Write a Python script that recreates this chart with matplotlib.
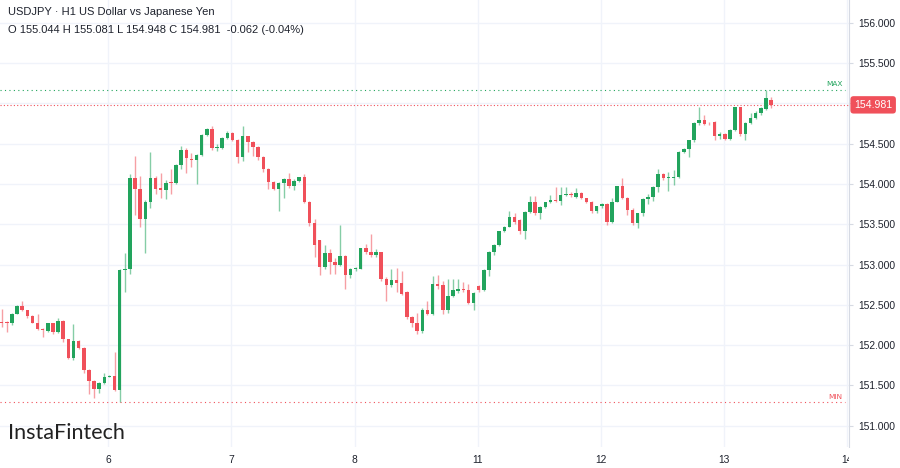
import matplotlib.pyplot as plt
import matplotlib.patches as mpatches
import numpy as np

# hourly candles, USDJPY H1
opens = [152.29, 152.28, 152.27, 152.39, 152.48, 152.43, 152.36, 152.28, 152.20, 152.18,
         152.27, 152.16, 152.30, 152.07, 151.84, 152.05, 151.97, 151.69, 151.56, 151.46,
         151.53, 151.61, 151.62, 151.44, 152.93, 152.94, 154.07, 153.94, 153.57, 153.77,
         154.07, 153.95, 153.92, 154.02, 154.01, 154.23, 154.42, 154.31, 154.30, 154.36,
         154.61, 154.68, 154.44, 154.45, 154.57, 154.63, 154.55, 154.34, 154.59, 154.52,
         154.46, 154.34, 154.19, 154.03, 153.94, 154.01, 154.06, 153.97, 154.04, 154.08,
         153.78, 153.51, 153.30, 152.97, 153.14, 153.03, 153.00, 153.10, 152.87, 152.94,
         152.95, 153.20, 153.15, 153.12, 153.15, 152.82, 152.74, 152.81, 152.77, 152.66,
         152.35, 152.27, 152.18, 152.44, 152.38, 152.76, 152.74, 152.43, 152.61, 152.67,
         152.70, 152.68, 152.52, 152.73, 152.68, 152.93, 153.16, 153.24, 153.41, 153.47,
         153.59, 153.55, 153.41, 153.65, 153.78, 153.64, 153.71, 153.77, 153.80, 153.79,
         153.86, 153.88, 153.84, 153.89, 153.82, 153.78, 153.66, 153.72, 153.75, 153.53,
         153.78, 153.97, 153.83, 153.68, 153.51, 153.64, 153.81, 153.84, 153.96, 154.12,
         154.07, 154.07, 154.08, 154.40, 154.43, 154.54, 154.76, 154.79, 154.76, 154.77,
         154.59, 154.62, 154.56, 154.67, 154.95, 154.62, 154.75, 154.82, 154.88, 154.93,
         155.044]
highs = [152.45, 152.30, 152.40, 152.50, 152.55, 152.44, 152.37, 152.39, 152.21, 152.27,
         152.28, 152.34, 152.31, 152.08, 152.26, 152.06, 151.98, 151.70, 151.57, 151.54,
         151.66, 151.63, 151.91, 152.94, 153.14, 154.12, 154.35, 154.10, 153.80, 154.39,
         154.10, 154.14, 154.05, 154.19, 154.25, 154.47, 154.45, 154.38, 154.37, 154.62,
         154.70, 154.72, 154.50, 154.58, 154.66, 154.65, 154.56, 154.72, 154.60, 154.53,
         154.47, 154.35, 154.20, 154.04, 154.03, 154.07, 154.13, 154.06, 154.09, 154.12,
         153.79, 153.57, 153.31, 153.24, 153.19, 153.08, 153.49, 153.12, 152.96, 152.97,
         153.21, 153.26, 153.38, 153.19, 153.16, 152.84, 152.94, 152.96, 152.92, 152.67,
         152.36, 152.40, 152.46, 152.55, 152.86, 152.87, 152.80, 152.82, 152.82, 152.82,
         152.78, 152.76, 152.66, 152.74, 152.94, 153.17, 153.25, 153.42, 153.48, 153.67,
         153.64, 153.56, 153.67, 153.85, 153.85, 153.72, 153.78, 153.86, 153.96, 153.96,
         153.96, 153.90, 153.95, 153.90, 153.83, 153.79, 153.72, 153.76, 153.76, 153.82,
         153.98, 154.07, 153.84, 153.70, 153.64, 153.82, 153.87, 153.97, 154.19, 154.13,
         154.15, 154.17, 154.41, 154.44, 154.54, 154.77, 154.95, 154.85, 154.77, 154.78,
         154.64, 154.63, 154.68, 154.96, 154.96, 154.77, 154.88, 154.90, 154.96, 155.17,
         155.081]
lows = [152.22, 152.16, 152.25, 152.38, 152.42, 152.34, 152.27, 152.19, 152.10, 152.16,
        152.14, 152.15, 152.04, 151.83, 151.82, 151.95, 151.66, 151.39, 151.34, 151.40,
        151.52, 151.60, 151.43, 151.29, 152.66, 152.88, 153.61, 153.46, 153.14, 153.70,
        153.88, 153.82, 153.81, 153.88, 154.00, 154.19, 154.13, 154.21, 154.00, 154.35,
        154.60, 154.42, 154.41, 154.43, 154.56, 154.53, 154.26, 154.28, 154.40, 154.35,
        154.30, 154.15, 153.94, 153.93, 153.67, 153.83, 153.95, 153.92, 154.03, 153.76,
        153.48, 153.09, 152.87, 152.95, 152.88, 152.88, 152.98, 152.70, 152.83, 152.92,
        152.94, 153.13, 153.09, 153.09, 152.80, 152.55, 152.72, 152.66, 152.62, 152.33,
        152.23, 152.14, 152.15, 152.37, 152.37, 152.70, 152.38, 152.40, 152.60, 152.65,
        152.66, 152.51, 152.44, 152.66, 152.67, 152.86, 153.12, 153.23, 153.40, 153.46,
        153.50, 153.38, 153.32, 153.64, 153.62, 153.57, 153.70, 153.76, 153.78, 153.74,
        153.85, 153.84, 153.83, 153.81, 153.76, 153.64, 153.64, 153.70, 153.49, 153.52,
        153.77, 153.81, 153.61, 153.49, 153.45, 153.60, 153.75, 153.79, 153.90, 154.05,
        153.91, 153.99, 154.07, 154.38, 154.33, 154.52, 154.73, 154.73, 154.73, 154.55,
        154.56, 154.54, 154.54, 154.66, 154.60, 154.55, 154.74, 154.80, 154.86, 154.92,
        154.948]
closes = [152.28, 152.27, 152.39, 152.48, 152.43, 152.36, 152.28, 152.20, 152.19, 152.27,
          152.16, 152.30, 152.07, 151.84, 152.05, 151.97, 151.69, 151.56, 151.46, 151.53,
          151.61, 151.62, 151.44, 152.93, 152.94, 154.07, 153.94, 153.57, 153.77, 154.07,
          153.94, 153.92, 154.01, 154.01, 154.23, 154.42, 154.32, 154.30, 154.36, 154.61,
          154.68, 154.44, 154.45, 154.57, 154.63, 154.55, 154.34, 154.59, 154.52, 154.46,
          154.34, 154.19, 154.03, 153.94, 154.01, 154.06, 153.97, 154.04, 154.08, 153.78,
          153.51, 153.24, 152.97, 153.14, 153.03, 153.00, 153.10, 152.87, 152.94, 152.95,
          153.20, 153.15, 153.12, 153.15, 152.82, 152.74, 152.81, 152.77, 152.64, 152.35,
          152.27, 152.18, 152.44, 152.38, 152.76, 152.73, 152.43, 152.61, 152.68, 152.70,
          152.68, 152.52, 152.65, 152.68, 152.93, 153.16, 153.24, 153.41, 153.47, 153.59,
          153.53, 153.41, 153.65, 153.78, 153.64, 153.71, 153.77, 153.80, 153.79, 153.86,
          153.88, 153.86, 153.89, 153.82, 153.78, 153.66, 153.72, 153.75, 153.53, 153.78,
          153.97, 153.82, 153.68, 153.51, 153.64, 153.81, 153.84, 153.96, 154.12, 154.07,
          154.08, 154.08, 154.40, 154.43, 154.54, 154.76, 154.79, 154.74, 154.75, 154.59,
          154.62, 154.56, 154.67, 154.95, 154.62, 154.75, 154.82, 154.88, 154.94, 155.06,
          154.981]

day_labels = ["6", "7", "8", "11", "12", "13", "14"]
first_day_idx = 20.8   # candle index where day "6" starts
price_ticks = [151.0, 151.5, 152.0, 152.5, 153.0, 153.5, 154.0, 154.5, 155.0, 155.5, 156.0]
# header numbers as shown by the platform
last_change = -0.062
last_change_pct = -0.04

up_col = "#22a45d"
dn_col = "#f0505a"
txt_col = "#1e222d"

fig = plt.figure(figsize=(9, 4.68), dpi=100)
ax = fig.add_axes([0, 21 / 468, 849 / 900, 447 / 468])

o = np.array(opens)
c = np.array(closes)
h = np.array(highs)
l = np.array(lows)
x = np.arange(len(o))
up = c >= o
cols = np.where(up, up_col, dn_col)

ax.vlines(x, l, h, colors=cols, linewidth=1, alpha=0.55, zorder=2)
body_h = np.abs(c - o)
body_h = np.maximum(body_h, 0.012)
ax.bar(x, body_h, bottom=np.minimum(o, c), width=0.68, color=cols, linewidth=0, zorder=3)

ax.set_xlim(-0.33, 165.2)
ax.set_ylim(150.736, 156.282)

last = c[-1]

# grid
for p in price_ticks:
    ax.axhline(p, color="#f0f3fa", linewidth=1, zorder=0)
day_pos = [first_day_idx + 24 * k for k in range(len(day_labels))]
for d in day_pos:
    ax.axvline(d, color="#f0f3fa", linewidth=1, zorder=0)

for s in ["top", "left", "bottom"]:
    ax.spines[s].set_visible(False)
ax.spines["right"].set_color("#d6dae3")

# the last price badge hides the tick label that sits under it
ylabels = ["" if abs(p - last) < 0.1 else "%.3f" % p for p in price_ticks]
ax.yaxis.tick_right()
ax.set_yticks(price_ticks)
ax.set_yticklabels(ylabels, fontsize=7.4, color=txt_col, family="Liberation Sans")
ax.tick_params(axis="y", length=3, color="#d6dae3", pad=4)
ax.set_xticks(day_pos)
ax.set_xticklabels(day_labels, fontsize=7.4, color=txt_col, family="Liberation Sans")
ax.tick_params(axis="x", length=0, pad=6)

# price scale area cuts off the last date label
fig.patches.append(mpatches.Rectangle((848.5 / 900, 0), 51.5 / 900, 20 / 468,
                                      transform=fig.transFigure, fc="white", ec="none",
                                      zorder=5))

# max / min / last price lines
hi_max = h.max()
lo_min = l.min()
ax.axhline(hi_max, color="#22a45d", linestyle=(0, (1, 3)), linewidth=0.8, xmax=0.995, zorder=1)
ax.axhline(lo_min, color="#f0505a", linestyle=(0, (1, 3)), linewidth=0.8, xmax=0.995, zorder=1)
ax.axhline(last, color="#f0505a", linestyle=(0, (1, 2)), linewidth=0.8, zorder=1)
ax.text(0.992, hi_max + 0.03, "MAX", transform=ax.get_yaxis_transform(), ha="right",
        va="bottom", fontsize=5.3, color="#22a45d")
ax.text(0.992, lo_min + 0.03, "MIN", transform=ax.get_yaxis_transform(), ha="right",
        va="bottom", fontsize=5.3, color="#f0505a")
ax.text(1.006, last, "%.3f" % last, transform=ax.get_yaxis_transform(), ha="left",
        va="center", fontsize=7.6, color="white", family="Liberation Sans", clip_on=False,
        bbox=dict(boxstyle="round,pad=0.35,rounding_size=0.3", fc="#f0505a", ec="none"))

# header
fig.text(8 / 900, 1 - 12 / 468, "USDJPY \u00b7 H1 US Dollar vs Japanese Yen", fontsize=8,
         color=txt_col, family="Liberation Sans", va="center")
fig.text(8 / 900, 1 - 30 / 468,
         "O %.3f H %.3f L %.3f C %.3f  %.3f (%.2f%%)" % (o[-1], h[-1], l[-1], c[-1],
                                                          last_change, last_change_pct),
         fontsize=8, color=txt_col, family="Liberation Sans", va="center")

fig.text(8 / 900, 1 - 433 / 468, "InstaFintech", fontsize=15.5, color="#222222",
         family="Lato", va="center")

fig.savefig("out.png", dpi=100, facecolor="white")
